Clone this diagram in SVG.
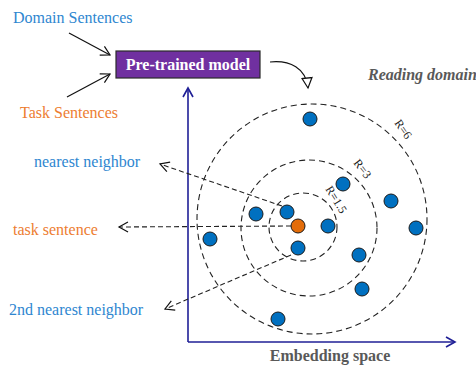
<svg xmlns="http://www.w3.org/2000/svg" width="476" height="365" viewBox="0 0 476 365">
<defs>
<style>
text{font-family:"Liberation Serif","Times New Roman",serif;font-size:16px}
.blue{fill:#2E86D0}
.orange{fill:#ED7D31}
.gray{fill:#595959;font-weight:bold}
.dot{fill:#0070C0;stroke:#1a1a1a;stroke-width:1}
.odot{fill:#E36C09;stroke:#1a1a1a;stroke-width:1}
.ring{fill:none;stroke:#222;stroke-width:1.1;stroke-dasharray:6,4}
.dash{fill:none;stroke:#222;stroke-width:1.1;stroke-dasharray:5,3}
.solid{fill:none;stroke:#111;stroke-width:1.2}
.axis{fill:none;stroke:#1F1F96;stroke-width:1.6}
.rl{font-size:12px;fill:#222}
</style>
<marker id="open" markerWidth="12" markerHeight="12" refX="10" refY="6" orient="auto" markerUnits="userSpaceOnUse">
<path d="M1,1 L10,6 L1,11" fill="none" stroke="#111" stroke-width="1.2"/>
</marker>
<marker id="openAxis" markerWidth="12" markerHeight="12" refX="10" refY="6" orient="auto" markerUnits="userSpaceOnUse">
<path d="M1,1 L10,6 L1,11" fill="none" stroke="#1F1F96" stroke-width="1.6"/>
</marker>
<marker id="tri" markerWidth="14" markerHeight="14" refX="11" refY="6" orient="auto" markerUnits="userSpaceOnUse">
<path d="M1,1 L11,6 L1,11 Z" fill="#fff" stroke="#111" stroke-width="1.2"/>
</marker>
</defs>

<g id="axes">
<path class="axis" d="M188,342 L188,88" marker-end="url(#openAxis)"/>
<path class="axis" d="M188,342 L455,342" marker-end="url(#openAxis)"/>
<text class="gray" x="330" y="361" text-anchor="middle">Embedding space</text>
</g>

<g id="rings">
<circle class="ring" cx="312" cy="219" r="115"/>
<circle class="ring" cx="309" cy="228" r="68"/>
<circle class="ring" cx="303" cy="227" r="34"/>
<text class="rl" transform="translate(394,123) rotate(55)">R=6</text>
<text class="rl" transform="translate(353,163) rotate(52)">R=3</text>
<text class="rl" transform="translate(325,189) rotate(58)">R=1.5</text>
</g>

<g id="domain-sentences"><text class="blue" x="13" y="23">Domain Sentences</text></g>
<g id="task-sentences"><text class="orange" x="20" y="118">Task Sentences</text></g>
<g id="pretrained-model">
<rect x="116" y="51" width="144" height="27" fill="#7030A0" stroke="#2b2b2b" stroke-width="1.2"/>
<text x="188" y="70" text-anchor="middle" fill="#fff" font-weight="bold">Pre-trained model</text>
</g>
<g id="reading-domain"><text class="gray" font-style="italic" x="368" y="80">Reading domain</text></g>
<g id="nearest-neighbor"><text class="blue" x="34" y="167">nearest neighbor</text></g>
<g id="task-sentence"><text class="orange" x="13" y="235">task sentence</text></g>
<g id="second-nearest-neighbor"><text class="blue" x="9" y="315">2nd nearest neighbor</text></g>

<g id="points">
<circle class="dot" cx="310" cy="119" r="7"/>
<circle class="dot" cx="343" cy="184" r="7"/>
<circle class="dot" cx="391" cy="201" r="7"/>
<circle class="dot" cx="416" cy="228" r="7"/>
<circle class="dot" cx="256" cy="214" r="7"/>
<circle class="dot" cx="287" cy="212" r="7"/>
<circle class="dot" cx="328" cy="226" r="7"/>
<circle class="dot" cx="298" cy="248" r="7"/>
<circle class="dot" cx="210" cy="239" r="7"/>
<circle class="dot" cx="359" cy="255" r="7"/>
<circle class="dot" cx="362" cy="289" r="7"/>
<circle class="dot" cx="278" cy="319" r="7"/>
<circle class="odot" cx="298" cy="226" r="7"/>
</g>

<g id="connectors">
<path class="solid" d="M69,33 L110,55" marker-end="url(#open)"/>
<path class="solid" d="M67,97 L110,74" marker-end="url(#open)"/>
<path class="solid" d="M270,62 C290,60 306,68 308,88" marker-end="url(#tri)"/>
<path class="dash" d="M282,206 L160,164" marker-end="url(#open)"/>
<path class="dash" d="M291,226 L119,227" marker-end="url(#open)"/>
<path class="dash" d="M291,255 L165,309" marker-end="url(#open)"/>
</g>
</svg>
